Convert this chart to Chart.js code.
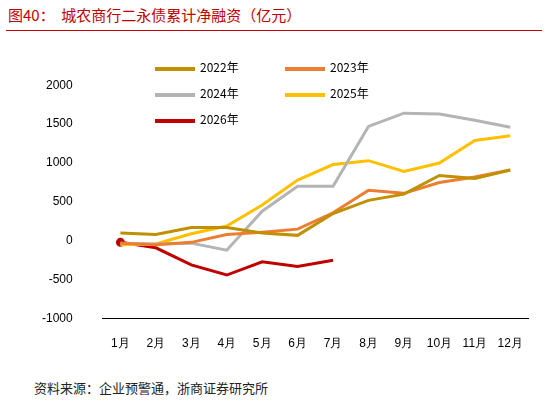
<!DOCTYPE html>
<html>
<head>
<meta charset="utf-8">
<script src="https://cdn.jsdelivr.net/npm/chart.js@4"></script>
<style>
  body { margin: 0; background: #fff; font-family: "Noto Sans CJK SC", sans-serif; }
  #title { position: absolute; left: 8px; top: 4px; color: #c00000; font-size: 15px; }
  #line { position: absolute; left: 6px; top: 30px; width: 536px; border-top: 1px solid #c00000; }
  #box { position: absolute; left: 20px; top: 56px; width: 515px; height: 305px; }
  #legend { position: absolute; left: 155px; top: 58px; width: 290px; font-size: 12px; }
  #legend span { display: inline-block; width: 130px; margin-bottom: 9px; }
  #legend i { display: inline-block; width: 40px; height: 4px; vertical-align: middle; margin-right: 5px; }
  #src { position: absolute; left: 34px; top: 378px; font-size: 13px; color: #222; }
</style>
</head>
<body>
<div id="title">图40：&nbsp;&nbsp;城农商行二永债累计净融资（亿元）</div>
<div id="line"></div>
<div id="box"><canvas id="chart"></canvas></div>
<div id="legend"></div>
<div id="src">资料来源：企业预警通，浙商证券研究所</div>
<script>
// 月份
let months = ['1月', '2月', '3月', '4月', '5月', '6月', '7月', '8月', '9月', '10月', '11月', '12月'];

// 各年度累计净融资（亿元）
let y2022 = [100, 80, 170, 170, 100, 70, 350, 520, 600, 840, 800, 910];
let y2023 = [-30, -50, -20, 80, 110, 150, 360, 650, 610, 750, 820, 910];
let y2024 = [-30, -40, -30, -120, 380, 700, 700, 1470, 1640, 1630, 1550, 1460];
let y2025 = [-50, -40, 90, 190, 460, 780, 980, 1030, 890, 1000, 1290, 1350];
let y2026 = [-20, -90, -310, -440, -270, -330, -250];

let yTicks = [-1000, -500, 0, 500, 1000, 1500, 2000];

function series(label, data, color) {
    return {
        label: label, data: data, borderColor: color, backgroundColor: color,
        borderWidth: 3, pointRadius: 0, tension: 0
    };
}

let ctx = document.getElementById('chart').getContext('2d');
let ds2026 = series('2026年', y2026, '#c00000');
ds2026.pointRadius = [3, 0, 0, 0, 0, 0, 0];

let chart = new Chart(ctx, {
    type: 'line',
    data: {
        labels: months,
        datasets: [
            series('2022年', y2022, '#bf9000'),
            series('2023年', y2023, '#ed7d31'),
            series('2024年', y2024, '#b4b4b4'),
            series('2025年', y2025, '#ffc000'),
            ds2026
        ]
    },
    options: {
        animation: false,
        responsive: true,
        maintainAspectRatio: false,
        layout: { padding: { top: 6, right: 0, bottom: 0 } },
        plugins: { legend: { display: false }, tooltip: { enabled: false } },
        scales: {
            x: {
                offset: true,
                grid: { display: false },
                border: { color: '#000' },
                ticks: { color: '#000', font: { size: 12 }, padding: 10 }
            },
            y: {
                min: -1000, max: 2000,
                afterBuildTicks: function (axis) { axis.ticks = yTicks.map(v => ({ value: v })); },
                grid: { display: false },
                border: { display: false },
                ticks: { color: '#000', font: { size: 12 }, padding: 22, callback: v => String(v) }
            }
        }
    }
});

// 图例
let legend = document.getElementById('legend');
chart.data.datasets.forEach(function (d) {
    let s = document.createElement('span');
    s.innerHTML = `<i style="background:${d.borderColor}"></i>${d.label}`;
    legend.appendChild(s);
});
</script>
</body>
</html>
